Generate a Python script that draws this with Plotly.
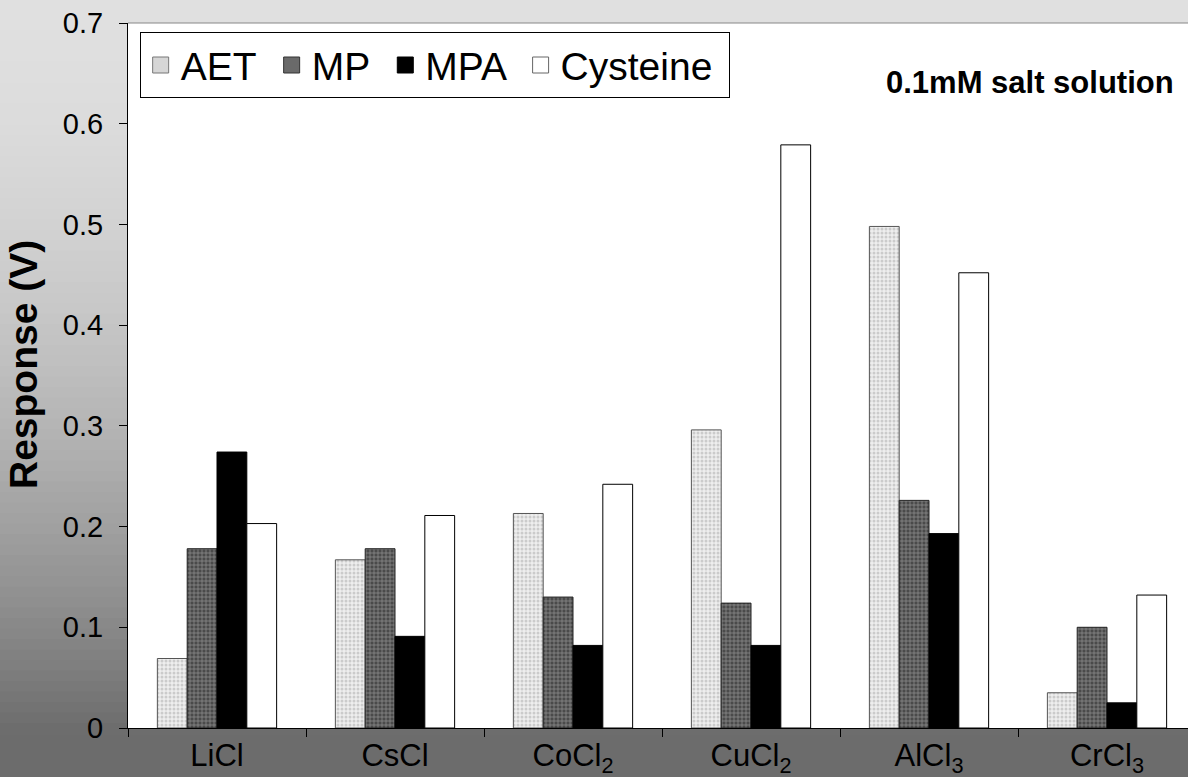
import plotly.graph_objects as go

categories = ["LiCl", "CsCl", "CoCl<sub>2</sub>", "CuCl<sub>2</sub>", "AlCl<sub>3</sub>", "CrCl<sub>3</sub>"]
series_names = ["AET", "MP", "MPA", "Cysteine"]
aet = [0.069, 0.167, 0.213, 0.296, 0.498, 0.035]
mp = [0.178, 0.178, 0.130, 0.124, 0.226, 0.100]
mpa = [0.274, 0.091, 0.082, 0.082, 0.193, 0.025]
cysteine = [0.203, 0.211, 0.242, 0.579, 0.452, 0.132]
y_ticks = [0, 0.1, 0.2, 0.3, 0.4, 0.5, 0.6, 0.7]
y_tick_text = ["0", "0.1", "0.2", "0.3", "0.4", "0.5", "0.6", "0.7"]

FONT = "Arial, Liberation Sans, sans-serif"
W, H = 1188, 777
ML, MR, MT, MB = 128, 0, 23, 49
PW, PH = W - ML - MR, H - MT - MB

bar_styles = [
    dict(color="#e4e4e4", line=dict(color="#555555", width=1),
         pattern=dict(shape=".", fgcolor="#a8a8a8", bgcolor="#eeeeee", size=4, solidity=0.45)),
    dict(color="#555555", line=dict(color="#222222", width=1),
         pattern=dict(shape="+", fgcolor="#e0e0e0", bgcolor="#4a4a4a", size=4, solidity=0.3)),
    dict(color="#000000", line=dict(color="#000000", width=1)),
    dict(color="#ffffff", line=dict(color="#000000", width=1)),
]
legend_styles = [
    dict(color="#d6d6d6", line=dict(color="#777777", width=1)),
    dict(color="#6a6a6a", line=dict(color="#333333", width=1)),
    dict(color="#000000", line=dict(color="#000000", width=1)),
    dict(color="#ffffff", line=dict(color="#666666", width=1)),
]
legend_labels = ["AET ", "MP ", "MPA ", "Cysteine "]

fig = go.Figure()
for name, vals, st in zip(series_names, [aet, mp, mpa, cysteine], bar_styles):
    fig.add_trace(go.Bar(name=name, x=categories, y=vals, marker=st, showlegend=False))
for lab, st in zip(legend_labels, legend_styles):
    fig.add_trace(go.Scatter(name=lab, x=[None], y=[None], mode="markers",
                             marker=dict(symbol="square", size=16, **st), showlegend=True))

# gradient background built from bands
shapes = []
n = 70
grad_end = 735
for i in range(n):
    top = grad_end * i / n
    bot = grad_end * (i + 1) / n
    t = (i + 0.5) / n
    c = int(round(224 - (t ** 1.8) * (224 - 108)))
    shapes.append(dict(type="rect", xref="paper", yref="paper", layer="below",
                       x0=-ML / PW, x1=(W - ML) / PW,
                       y0=(H - MB - bot) / PH, y1=(H - MB - top) / PH + 0.002,
                       fillcolor=f"rgb({c},{c},{c})", line=dict(width=0)))
shapes.append(dict(type="rect", xref="paper", yref="paper", layer="below",
                   x0=-ML / PW, x1=(W - ML) / PW, y0=-MB / PH, y1=(H - MB - grad_end) / PH,
                   fillcolor="rgb(108,108,108)", line=dict(width=0)))
shapes.append(dict(type="rect", xref="paper", yref="paper", layer="below",
                   x0=0, x1=1, y0=0, y1=1, fillcolor="white", line=dict(width=0)))
shapes.append(dict(type="line", xref="paper", yref="paper", x0=0, x1=1, y0=1, y1=1,
                   line=dict(color="#888888", width=1)))

fig.update_layout(
    width=W, height=H,
    margin=dict(l=ML, r=MR, t=MT, b=MB),
    paper_bgcolor="rgb(160,160,160)",
    plot_bgcolor="white",
    barmode="group", bargap=0.33, bargroupgap=0,
    font=dict(family=FONT, color="black"),
    shapes=shapes,
    showlegend=True,
    legend=dict(orientation="h", x=0.011, y=0.987, xanchor="left", yanchor="top",
                bgcolor="white", bordercolor="black", borderwidth=1,
                font=dict(size=39, family=FONT), itemsizing="trace",
                traceorder="normal"),
    xaxis=dict(range=[-0.5, 5.455], showline=True, linecolor="black", linewidth=1,
               ticks="outside", ticklen=8, tickcolor="black", tickson="boundaries",
               tickfont=dict(size=31, family=FONT), showgrid=False, zeroline=False),
    yaxis=dict(range=[0, 0.7], tickvals=y_ticks, ticktext=y_tick_text,
               showline=True, linecolor="black", linewidth=1,
               ticks="outside", ticklen=8, tickcolor="black", ticklabelstandoff=10,
               tickfont=dict(size=29, family=FONT), showgrid=False, zeroline=False),
    annotations=[
        dict(text="<b>0.1mM salt solution</b>", xref="paper", yref="paper",
             x=(1176 - ML) / PW, y=(H - MB - 82) / PH, xanchor="right", yanchor="middle",
             showarrow=False, font=dict(size=31, family=FONT)),
        dict(text="<b>Response (V)</b>", xref="paper", yref="paper", textangle=-90,
             x=(23 - ML) / PW, y=(H - MB - 365) / PH, xanchor="center", yanchor="middle",
             showarrow=False, font=dict(size=39, family=FONT)),
    ],
)

fig.write_html("out.html", config={"displayModeBar": False},
               post_script="document.body.style.margin='0';document.body.style.overflow='hidden';")
